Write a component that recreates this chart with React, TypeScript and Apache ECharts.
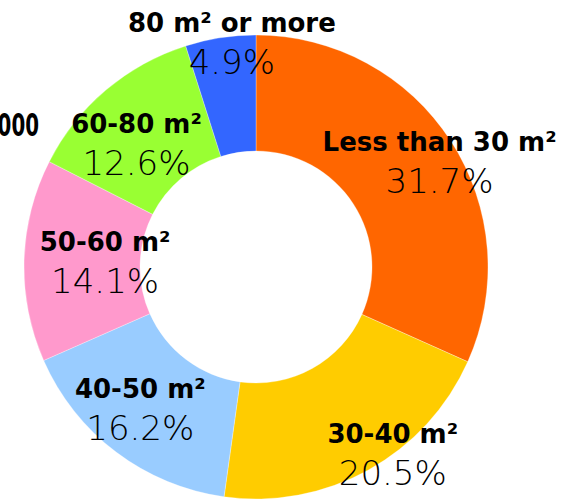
import React, { useEffect, useRef } from 'react';
import * as echarts from 'echarts';

const categories = ['Less than 30 m²', '30-40 m²', '40-50 m²', '50-60 m²', '60-80 m²', '80 m² or more'];
const shares = [31.7, 20.5, 16.2, 14.1, 12.6, 4.9];
const colors = ['#FF6600', '#FFCC00', '#99CCFF', '#FF99CC', '#99FF33', '#3366FF'];
const labelNudges = [[35, -9], [51, 32], [-9, 0], [26, 0], [-5, 11], [3, -50]];
const cutText = '2000';

export default function App() {
  const ref = useRef<HTMLDivElement>(null);
  useEffect(() => {
    const chart = echarts.init(ref.current!, null, { renderer: 'svg' });
    chart.setOption({
      animation: false,
      series: [
        {
          type: 'pie',
          center: [256, 267],
          radius: [116, 232],
          startAngle: 90,
          clockwise: true,
          avoidLabelOverlap: false,
          data: categories.map((c, i) => ({ name: c, value: shares[i], itemStyle: { color: colors[i] } })),
          itemStyle: { borderColor: 'rgba(255,255,255,0.6)', borderWidth: 0.5 },
          label: {
            show: true,
            position: 'inside',
            color: '#000',
            textBorderWidth: 0,
            formatter: (p: any) => `{n|${p.name}}\n{p|${Number(p.value).toFixed(1)}%}`,
            rich: {
              n: { fontFamily: 'DejaVu Sans', fontWeight: 'bold', fontSize: 26, color: '#000', lineHeight: 39 },
              p: { fontFamily: 'DejaVu Sans', fontWeight: 200, fontSize: 34, color: '#000', lineHeight: 39 },
            },
          },
          labelLine: { show: false },
          emphasis: { disabled: true },
          labelLayout: (p: any) => ({ dx: labelNudges[p.dataIndex][0], dy: labelNudges[p.dataIndex][1] }),
        },
      ],
      graphic: [
        {
          type: 'text',
          x: 39,
          y: 125,
          scaleX: 0.62,
          style: {
            text: cutText,
            align: 'right',
            verticalAlign: 'middle',
            fontFamily: 'DejaVu Sans',
            fontWeight: 'bold',
            fontSize: 32,
            fill: '#000',
          },
        },
      ],
    });
    return () => chart.dispose();
  }, []);
  return <div ref={ref} style={{ position: 'absolute', left: 0, top: 0, width: 572, height: 501 }} />;
}
